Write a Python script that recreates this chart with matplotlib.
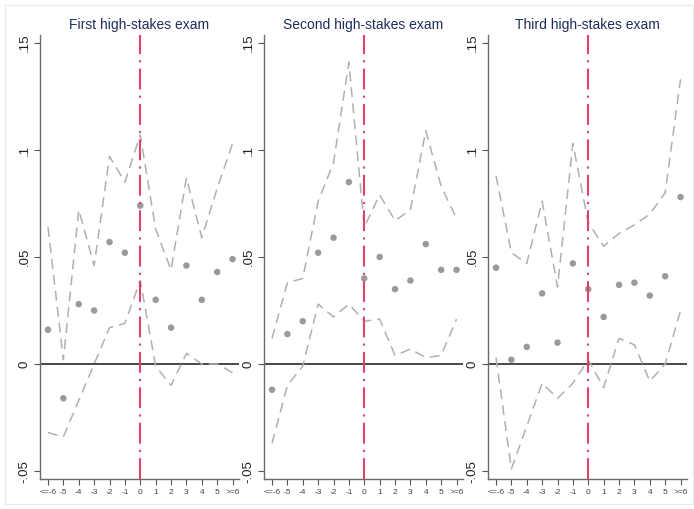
import matplotlib
matplotlib.use("Agg")
import matplotlib.pyplot as plt
from matplotlib.patches import Rectangle
import numpy as np

plt.rcParams['font.family'] = ['Liberation Sans', 'DejaVu Sans']

rel = [-6, -5, -4, -3, -2, -1, 0, 1, 2, 3, 4, 5, 6]
xlabels = ["<=-6", "-5", "-4", "-3", "-2", "-1", "0", "1", "2", "3", "4", "5", ">=6"]
titles = ["First high-stakes exam", "Second high-stakes exam", "Third high-stakes exam"]

est1 = [0.016, -0.016, 0.028, 0.025, 0.057, 0.052, 0.074, 0.030, 0.017, 0.046, 0.030, 0.043, 0.049]
hi1 = [0.064, 0.002, 0.072, 0.046, 0.097, 0.085, 0.107, 0.063, 0.044, 0.087, 0.059, 0.082, 0.103]
lo1 = [-0.032, -0.034, -0.017, 0.000, 0.017, 0.019, 0.039, -0.001, -0.010, 0.005, 0.000, 0.000, -0.004]

est2 = [-0.012, 0.014, 0.020, 0.052, 0.059, 0.085, 0.040, 0.050, 0.035, 0.039, 0.056, 0.044, 0.044]
hi2 = [0.012, 0.038, 0.040, 0.076, 0.094, 0.141, 0.064, 0.079, 0.067, 0.072, 0.109, 0.083, 0.068]
lo2 = [-0.037, -0.010, -0.001, 0.028, 0.022, 0.028, 0.020, 0.021, 0.004, 0.007, 0.003, 0.004, 0.021]

est3 = [0.045, 0.002, 0.008, 0.033, 0.010, 0.047, 0.035, 0.022, 0.037, 0.038, 0.032, 0.041, 0.078]
hi3 = [0.088, 0.052, 0.047, 0.076, 0.036, 0.103, 0.066, 0.055, 0.061, 0.065, 0.070, 0.080, 0.133]
lo3 = [0.003, -0.049, -0.029, -0.009, -0.016, -0.009, 0.002, -0.011, 0.012, 0.009, -0.008, 0.000, 0.025]

ests = [est1, est2, est3]
his = [hi1, hi2, hi3]
los = [lo1, lo2, lo3]

yticks = [-0.05, 0, 0.05, 0.1, 0.15]
ytlabels = ["-.05", "0", ".05", ".1", ".15"]

fig = plt.figure(figsize=(6.94, 5.09), dpi=100)
fig.patches.append(Rectangle((5/694, 5/509), 1 - 6/694, 1 - 10/509, transform=fig.transFigure,
                             fill=False, edgecolor="#e3ecf0", linewidth=0.8))

lefts = [40, 264, 488]
W = 694.0
H = 509.0
for i in range(3):
    left = lefts[i] / W
    width = 199 / W
    bottom = 1 - 479 / H
    height = (479 - 35) / H
    ax = fig.add_axes([left, bottom, width, height])
    ax.set_xlim(-6.52, 6.42)
    ax.set_ylim(-0.0537, 0.1537)
    ax.plot(rel, his[i], color="#b0b0b0", lw=1.1, linestyle=(0, (6.5, 4)), zorder=2)
    ax.plot(rel, los[i], color="#b0b0b0", lw=1.1, linestyle=(0, (6.5, 4)), zorder=2)
    ax.scatter(rel, ests[i], s=22, color="#9a9a9a", edgecolors="none", zorder=3)
    ax.axhline(0, color="#3a3a3a", lw=1.3, zorder=1)
    ax.axvline(0, color="#e0406a", lw=1.5, linestyle=(0, (10, 3, 1, 3)), zorder=4)
    for s in ["top", "right"]:
        ax.spines[s].set_visible(False)
    for s in ["left", "bottom"]:
        ax.spines[s].set_color("#6a6a6a")
        ax.spines[s].set_linewidth(1.0)
    ax.set_xticks(rel)
    ax.set_xticklabels(xlabels, fontsize=6, color="#444444")
    ax.set_yticks(yticks)
    ax.set_yticklabels(ytlabels, fontsize=9.5, color="#222222", rotation=90, va="center")
    ax.tick_params(axis="both", length=4, width=0.8, color="#555555", pad=3)
    ax.set_title(titles[i], fontsize=10, color="#1f2d5c", pad=4)

fig.savefig("out.png", dpi=100)
